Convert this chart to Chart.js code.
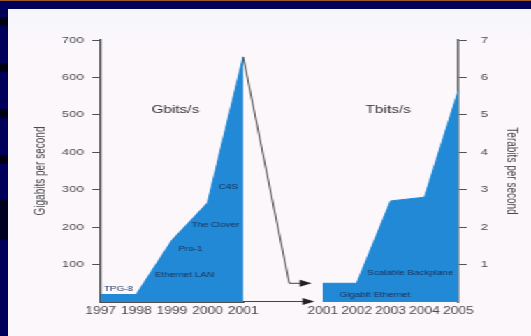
<!DOCTYPE html>
<html>
<head>
<meta charset="utf-8">
<script src="https://cdn.jsdelivr.net/npm/chart.js@4.4.1/dist/chart.umd.min.js"></script>
<style>
html,body{margin:0;padding:0;width:531px;height:336px;overflow:hidden;background:#00005a;}
#topline{position:absolute;left:0;top:0;width:531px;height:1px;background:#9a5a28;}
.band{position:absolute;left:0;width:8px;background:#000012;}
#panel{position:absolute;left:8px;top:9px;right:0;bottom:0;background:linear-gradient(#f5f6fc,#fcf7fb 12%,#fcf7fb);}
#stage{position:absolute;left:0;top:0;width:380px;height:336px;transform:scaleX(1.3974);transform-origin:0 0;}
#leftBox{position:absolute;left:0;top:0;width:240px;height:336px;}
#rightBox{position:absolute;left:180px;top:0;width:200px;height:336px;}
</style>
</head>
<body>
<div id="topline"></div>
<div class="band" style="top:17px;height:9px"></div>
<div class="band" style="top:63px;height:9px"></div>
<div class="band" style="top:109px;height:9px"></div>
<div class="band" style="top:155px;height:9px"></div>
<div class="band" style="top:200px;height:40px;background:#000020"></div>
<div id="panel"></div>
<div id="stage">
  <div id="leftBox"><canvas id="leftChart"></canvas></div>
  <div id="rightBox"><canvas id="rightChart"></canvas></div>
</div>
<script>
// ---- data ----
const leftYears = ['1997', '1998', '1999', '2000', '2001'];
const gigabitsPerSecond = [20, 20, 165, 265, 655];
const rightYears = ['2001', '2002', '2003', '2004', '2005'];
const terabitsPerSecond = [0.5, 0.5, 2.7, 2.8, 5.65];
const leftTitle = 'Gigabits per second';
const rightTitle = 'Terabits per second';
const leftUnit = 'Gbits/s';
const rightUnit = 'Tbits/s';
const leftNotes = ['TPG-8', 'Ethernet LAN', 'Pro-1', 'The Clover', 'C4S'];
const rightNotes = ['Gigabit Ethernet', 'Scalable Backplane'];

// ---- annotation placement (data coordinates) ----
const leftNoteAt = [[0.5, 35], [2.35, 72], [2.52, 142], [3.22, 206], [3.58, 307]];
const rightNoteAt = [[1.54, 0.19], [2.58, 0.78]];
const leftUnitAt = [2.1, 513];
const rightUnitAt = [1.93, 5.13];

const FONT = 'Liberation Sans, Arial, Helvetica, sans-serif';
const AXIS = '#505050';
const FILL = '#2189d5';
const NOTE = '#1a2f55';
const LABEL = '#4a4a4a';

function hideZero(v) { return v === 0 ? '' : v; }
function zeroTick(c) { return c.tick && c.tick.value === 0 ? 'rgba(0,0,0,0)' : AXIS; }

function drawNotes(chart, notes, places, unitText, unitAt) {
  const {ctx, scales: {x, y}} = chart;
  ctx.save();
  ctx.textAlign = 'center';
  ctx.textBaseline = 'middle';
  ctx.font = '7px ' + FONT;
  ctx.fillStyle = NOTE;
  notes.forEach((t, i) => {
    ctx.fillText(t, x.getPixelForValue(places[i][0]), y.getPixelForValue(places[i][1]));
  });
  ctx.font = '11px ' + FONT;
  ctx.fillStyle = '#333';
  ctx.fillText(unitText, x.getPixelForValue(unitAt[0]), y.getPixelForValue(unitAt[1]));
  ctx.restore();
}

function arrowHead(ctx, tipX, tipY) {
  ctx.beginPath();
  ctx.moveTo(tipX, tipY);
  ctx.lineTo(tipX - 8.5, tipY - 3.5);
  ctx.lineTo(tipX - 8.5, tipY + 3.5);
  ctx.closePath();
  ctx.fill();
}

let rightChartRef = null;

const rightDecor = {
  id: 'rightDecor',
  afterDatasetsDraw(chart) { drawNotes(chart, rightNotes, rightNoteAt, rightUnit, rightUnitAt); }
};

const leftDecor = {
  id: 'leftDecor',
  afterDatasetsDraw(chart) {
    drawNotes(chart, leftNotes, leftNoteAt, leftUnit, leftUnitAt);
    if (!rightChartRef) return;
    const {ctx, scales: {x, y}} = chart;
    const shift = document.getElementById('rightBox').offsetLeft - document.getElementById('leftBox').offsetLeft;
    const rx = shift + rightChartRef.scales.x.getPixelForValue(0);
    const ry = rightChartRef.scales.y.getPixelForValue(terabitsPerSecond[0]);
    const last = gigabitsPerSecond.length - 1;
    const px = x.getPixelForValue(last);
    const py = y.getPixelForValue(gigabitsPerSecond[last]);
    const by = y.getPixelForValue(0);
    ctx.save();
    ctx.strokeStyle = '#444';
    ctx.fillStyle = '#222';
    ctx.lineWidth = 1;
    // slanted drop from the peak to the Tbit/s start
    ctx.beginPath();
    ctx.moveTo(px, py);
    ctx.lineTo(rx - 24, ry);
    ctx.lineTo(rx - 12, ry);
    ctx.stroke();
    arrowHead(ctx, rx - 8, ry);
    // baseline arrow
    ctx.beginPath();
    ctx.moveTo(px, by - 0.5);
    ctx.lineTo(rx - 10, by - 0.5);
    ctx.stroke();
    arrowHead(ctx, rx - 6, by - 0.5);
    ctx.restore();
  }
};

function xAxis(showBorder) {
  return {
    type: 'category', offset: false,
    grid: {display: true, drawOnChartArea: false, drawTicks: false},
    border: {display: showBorder, color: AXIS, width: 1},
    ticks: {color: LABEL, font: {size: 10, family: FONT}, padding: 3, autoSkip: false, maxRotation: 0, minRotation: 0},
    afterFit: s => { s.height = 34; }
  };
}

function yAxis(pos, max, step, title, width, titlePad, labelPad) {
  return {
    position: pos, min: 0, max: max,
    ticks: {stepSize: step, callback: hideZero, color: LABEL, font: {size: 9.5, family: FONT}, padding: labelPad},
    grid: {display: true, drawOnChartArea: false, drawTicks: true, tickLength: 6, tickColor: zeroTick, tickWidth: 1},
    border: {display: true, color: AXIS, width: 1.5},
    title: {display: true, text: title, color: '#4a4a4a', font: {size: 10, family: FONT}, padding: {top: titlePad, bottom: 0}},
    afterFit: s => { s.width = width; }
  };
}

function areaSet(values) {
  return {data: values, fill: 'origin', backgroundColor: FILL, borderColor: FILL, borderWidth: 1, pointRadius: 0, tension: 0};
}

const common = {
  responsive: true, maintainAspectRatio: false, animation: false,
  plugins: {legend: {display: false}, tooltip: {enabled: false}}
};

rightChartRef = new Chart(document.getElementById('rightChart'), {
  type: 'line',
  data: {labels: rightYears, datasets: [areaSet(terabitsPerSecond)]},
  options: Object.assign({}, common, {
    layout: {padding: {top: 40, left: 51, right: 0, bottom: 0}},
    scales: {x: xAxis(false), y: yAxis('right', 7, 1, rightTitle, 52, 8, 10)}
  }),
  plugins: [rightDecor]
});

new Chart(document.getElementById('leftChart'), {
  type: 'line',
  data: {labels: leftYears, datasets: [areaSet(gigabitsPerSecond)]},
  options: Object.assign({}, common, {
    layout: {padding: {top: 40, left: 0, right: 66, bottom: 0}},
    scales: {x: xAxis(true), y: yAxis('left', 700, 100, leftTitle, 72, 23, 6)}
  }),
  plugins: [leftDecor]
});
</script>
</body>
</html>
